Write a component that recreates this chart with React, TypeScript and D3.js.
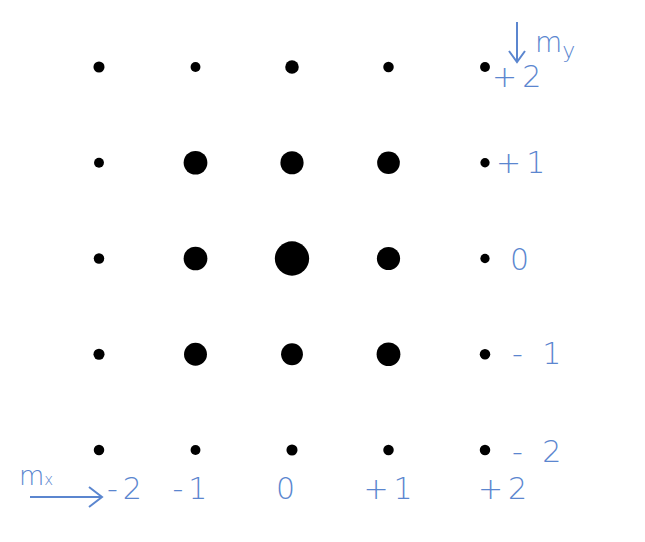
import React from "react";
import * as d3 from "d3";

const mxValues = [-2, -1, 0, 1, 2];
const myValues = [2, 1, 0, -1, -2];
// weights[rowIndex][colIndex], row = my (+2 .. -2), col = mx (-2 .. +2)
const weights = [
  [1.0, 0.8, 1.5, 0.9, 0.8],
  [0.8, 4.6, 4.4, 4.2, 0.7],
  [0.9, 4.6, 9.6, 4.4, 0.7],
  [1.0, 4.3, 3.9, 4.6, 0.9],
  [0.9, 0.8, 1.0, 0.9, 0.9],
];
const xTickLabels = ["-2", "-1", "0", "+1", "+2"];
const yTickLabels = ["+2", "+1", "0", "- 1", "- 2"];

const W = 645;
const H = 542;
const BLUE = "#5b86cf";

export default function App() {
  const x = d3.scaleLinear().domain([-2, 2]).range([99, 485]);
  const y = d3.scaleLinear().domain([-2, 2]).range([450, 67]);
  const r = d3.scaleSqrt().domain([0, 10]).range([0, 17.5]);

  const xLabelOffsets = [28, -3, -4, 2, 20];
  const yLabelX = [492, 496, 510, 512, 512];
  const yLabelDy = [8, -2, -1, -2, 0];

  const dots = [];
  myValues.forEach((my, i) =>
    mxValues.forEach((mx, j) => {
      dots.push({ mx, my, w: weights[i][j] });
    })
  );

  return (
    <svg
      width={W}
      height={H}
      style={{ position: "absolute", left: 0, top: 0, background: "#fff" }}
      fontFamily="'DejaVu Sans', 'Liberation Sans', sans-serif"
    >
      <rect width={W} height={H} fill="#fff" />
      {dots.map((d, k) => (
        <circle key={k} cx={x(d.mx)} cy={y(d.my)} r={r(d.w)} fill="#000" />
      ))}
      {/* x tick labels */}
      {mxValues.map((v, j) => (
        <text
          key={"xl" + j}
          x={x(v) + xLabelOffsets[j]}
          y={499}
          textAnchor="middle"
          fontSize={30}
          fontWeight={200}
          letterSpacing={5}
          fill={BLUE}
        >
          {xTickLabels[j]}
        </text>
      ))}
      {/* y tick labels */}
      {myValues.map((v, i) => (
        <text
          key={"yl" + i}
          x={yLabelX[i]}
          y={y(v) + 12 + yLabelDy[i]}
          textAnchor="start"
          fontSize={30}
          fontWeight={200}
          letterSpacing={5}
          fill={BLUE}
        >
          {yTickLabels[i]}
        </text>
      ))}
      {/* mx label and arrow */}
      <text x={19} y={485} fontSize={26} fontWeight={200} fill={BLUE}>
        m<tspan fontSize={15}>x</tspan>
      </text>
      <line x1={30} y1={497} x2={101} y2={497} stroke={BLUE} strokeWidth={2} />
      <path d="M89,487 L102,497 L89,507" fill="none" stroke={BLUE} strokeWidth={2} />
      {/* my label and arrow */}
      <text x={535} y={52} fontSize={28} fontWeight={200} fill={BLUE}>
        m<tspan fontSize={22} dy={6}>y</tspan>
      </text>
      <line x1={517} y1={22} x2={517} y2={62} stroke={BLUE} strokeWidth={2} />
      <path d="M509,51 L517,62 L525,51" fill="none" stroke={BLUE} strokeWidth={2} />
    </svg>
  );
}
